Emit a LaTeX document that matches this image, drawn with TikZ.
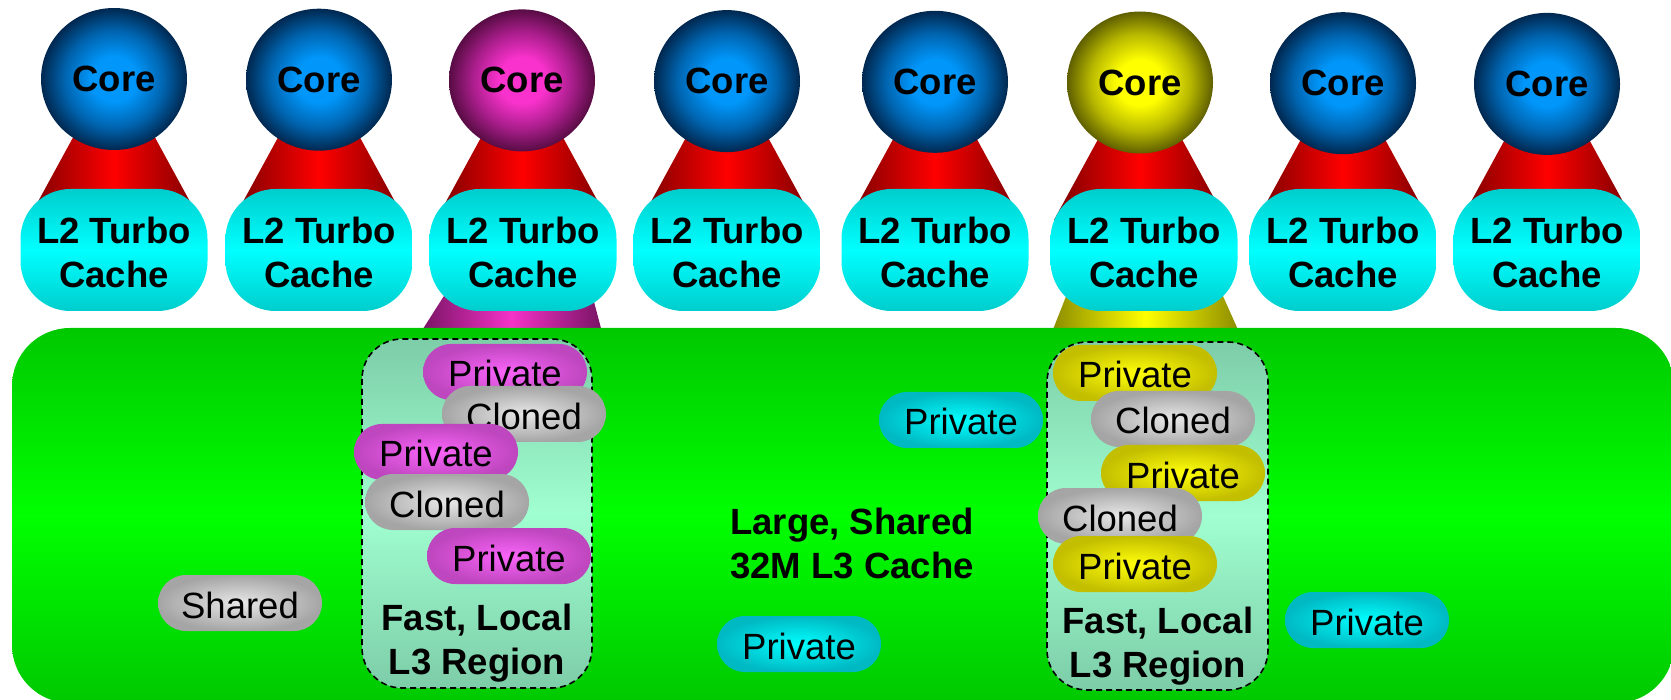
\documentclass[tikz,border=0pt]{standalone}
\usepackage{fontspec}
\setmainfont{Liberation Sans}
\usetikzlibrary{shapes.geometric}

% core balls
\definecolor{bluein}{RGB}{0,150,250}
\definecolor{bluemid}{RGB}{0,100,175}
\definecolor{blueout}{RGB}{0,40,80}
\definecolor{magin}{RGB}{250,50,205}
\definecolor{magmid}{RGB}{170,30,140}
\definecolor{magout}{RGB}{88,12,68}
\definecolor{yelin}{RGB}{255,255,0}
\definecolor{yelmid}{RGB}{185,185,0}
\definecolor{yelout}{RGB}{95,95,0}
% cones
\definecolor{conered}{RGB}{255,0,0}
\definecolor{conedark}{RGB}{120,0,0}
\definecolor{tubemag}{RGB}{245,50,200}
\definecolor{tubemagdark}{RGB}{120,20,100}
\definecolor{tubeyel}{RGB}{255,255,0}
\definecolor{tubeyeldark}{RGB}{140,140,0}
% boxes
\definecolor{cyanlo}{RGB}{0,205,205}
\definecolor{cyanhi}{RGB}{0,255,255}
\definecolor{greenlo}{RGB}{0,200,0}
\definecolor{greenhi}{RGB}{0,255,0}
\definecolor{mintlo}{RGB}{125,205,168}
\definecolor{minthi}{RGB}{160,255,208}
% pills
\definecolor{grayin}{RGB}{232,232,232}
\definecolor{grayout}{RGB}{165,165,165}
\definecolor{pinkin}{RGB}{250,100,250}
\definecolor{pinkout}{RGB}{190,70,190}
\definecolor{goldin}{RGB}{255,255,10}
\definecolor{goldout}{RGB}{195,190,0}
\definecolor{aquain}{RGB}{0,255,255}
\definecolor{aquaout}{RGB}{0,185,195}

% ball shadings: bright centre, darkening towards the rim
\pgfdeclareradialshading{blueball}{\pgfpointorigin}{color(0bp)=(bluein); color(8bp)=(bluein); color(17bp)=(bluemid); color(25bp)=(blueout); color(50bp)=(blueout)}
\pgfdeclareradialshading{magball}{\pgfpointorigin}{color(0bp)=(magin); color(8bp)=(magin); color(17bp)=(magmid); color(25bp)=(magout); color(50bp)=(magout)}
\pgfdeclareradialshading{yelball}{\pgfpointorigin}{color(0bp)=(yelin); color(8bp)=(yelin); color(17bp)=(yelmid); color(25bp)=(yelout); color(50bp)=(yelout)}

\begin{document}
\begin{tikzpicture}[x=1pt,y=-1pt,
  boldtext/.style={font=\fontsize{36.5}{44}\selectfont\bfseries},
  plaintext/.style={font=\fontsize{36.5}{44}\selectfont},
  core/.style={ellipse, minimum width=146pt, minimum height=142pt, inner sep=0pt, boldtext, shade},
  coreblue/.style={core, shading=blueball},
  coremag/.style={core, shading=magball},
  coreyel/.style={core, shading=yelball},
  l2box/.style={rectangle, rounded corners=50pt, minimum width=187pt, minimum height=122pt,
    inner sep=0pt, align=center, boldtext,
    top color=cyanlo, bottom color=cyanlo, middle color=cyanhi},
  redcone/.style={left color=conedark, right color=conedark, middle color=conered},
  magcone/.style={left color=tubemagdark, right color=tubemagdark, middle color=tubemag},
  yelcone/.style={left color=tubeyeldark, right color=tubeyeldark, middle color=tubeyel},
  shared/.style={top color=greenlo, bottom color=greenlo, middle color=greenhi, rounded corners=58pt},
  region/.style={draw=black, line width=1.6pt, dash pattern=on 6pt off 4pt, rounded corners=40pt,
    top color=mintlo, bottom color=mintlo, middle color=minthi},
  pill/.style={rectangle, rounded corners=28pt, minimum width=164pt, minimum height=56pt,
    inner sep=0pt, plaintext, text height=30pt, text depth=0pt},
  graypill/.style={pill, inner color=grayin, outer color=grayout},
  pinkpill/.style={pill, inner color=pinkin, outer color=pinkout},
  goldpill/.style={pill, inner color=goldin, outer color=goldout},
  aquapill/.style={pill, inner color=aquain, outer color=aquaout},
  caption/.style={boldtext, align=center, anchor=north, inner sep=0pt}
]
\useasboundingbox (0,0) rectangle (1671,700);

% links from the two highlighted caches down to their local L3 regions
\path[magcone] (505,200) -- (567,200) -- (602,332) -- (421,332) -- cycle;
\path[yelcone] (1104,200) -- (1180,200) -- (1239,332) -- (1052,332) -- cycle;

% core-to-L2 cones
\foreach \x in {114,319,522,727,935,1140,1343,1547}
  \path[redcone] (\x-26,110) -- (\x+26,110) -- (\x+86,220) -- (\x-86,220) -- cycle;

% cores
\node[coreblue] (core1) at (114,79.0) {Core};
\node[coreblue] (core2) at (319,79.7) {Core};
\node[coremag]  (core3) at (522,80.4) {Core};
\node[coreblue] (core4) at (727,81.1) {Core};
\node[coreblue] (core5) at (935,81.8) {Core};
\node[coreyel]  (core6) at (1140,82.5) {Core};
\node[coreblue] (core7) at (1343,83.2) {Core};
\node[coreblue] (core8) at (1547,83.9) {Core};

% private L2 caches
\foreach \x [count=\i] in {114,319,523,727,935,1144,1343,1547}
  \node[l2box] (l2-\i) at (\x,250) {\rule{0pt}{32pt}L2 Turbo\\Cache};

% shared L3
\path[shared] (12,328) rectangle (1674,703);

% local L3 regions
\path[region] (362,339) rectangle (592,688);
\path[region] (1047,342) rectangle (1268,690);

% lines in the left region
\node[pinkpill] (lp1) at (505,372) {Private};
\node[graypill] (lc1) at (524,414) {Cloned};
\node[pinkpill] (lp2) at (436,452) {Private};
\node[graypill] (lc2) at (447,502) {Cloned};
\node[pinkpill] (lp3) at (509,556) {Private};

% lines in the right region
\node[goldpill] (rp1) at (1135,373) {Private};
\node[graypill] (rc1) at (1173,419) {Cloned};
\node[goldpill] (rp2) at (1183,473) {Private};
\node[graypill] (rc2) at (1120,516) {Cloned};
\node[goldpill] (rp3) at (1135,564) {Private};

% lines elsewhere in the shared L3
\node[graypill] (sh1) at (240,603) {Shared};
\node[aquapill] (cp1) at (961,420) {Private};
\node[aquapill] (cp2) at (799,644) {Private};
\node[aquapill] (cp3) at (1367,620) {Private};

% labels
\node[caption] (l3label) at (852,507.5) {Large, Shared\\32M L3 Cache};
\node[caption] (lregion) at (477,603.5) {Fast, Local\\L3 Region};
\node[caption] (rregion) at (1158,606.5) {Fast, Local\\L3 Region};
\end{tikzpicture}
\end{document}
